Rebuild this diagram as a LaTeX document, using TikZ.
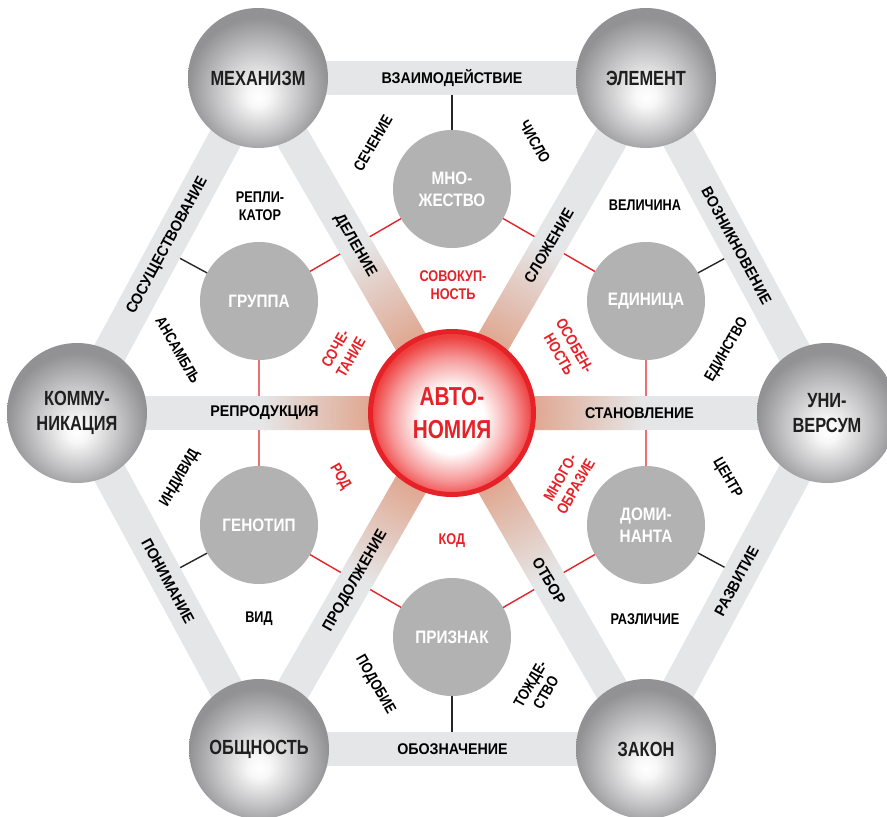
\documentclass[tikz,border=0pt]{standalone}
\usepackage{fontspec}
\setmainfont{Liberation Sans}
\newfontfamily\fbig{Liberation Sans}[FakeStretch=0.8]
\newfontfamily\fin{Liberation Sans}[FakeStretch=0.85]
\newfontfamily\fband{Liberation Sans}[FakeStretch=0.92]
\newfontfamily\ffree{Liberation Sans}[FakeStretch=0.82]
\usetikzlibrary{calc}
\definecolor{bandgray}{RGB}{229,230,231}
\definecolor{ingray}{RGB}{178,178,178}
\definecolor{redc}{RGB}{230,34,40}
\definecolor{salmon}{RGB}{224,168,146}
\definecolor{sphedge}{RGB}{146,146,149}
\definecolor{sphmid}{RGB}{196,196,198}
\definecolor{redmid}{RGB}{246,150,150}
\definecolor{rededge}{RGB}{238,62,62}
\pgfdeclareradialshading{sphsh}{\pgfpoint{0bp}{-7bp}}{color(0bp)=(white); color(4bp)=(white!97!black); color(15bp)=(sphmid); color(25bp)=(sphedge); color(50bp)=(sphedge)}
\pgfdeclareradialshading{redsh}{\pgfpoint{0bp}{-3bp}}{color(0bp)=(white); color(10bp)=(white); color(19bp)=(redmid); color(25bp)=(rededge); color(50bp)=(rededge)}
\pgfdeclareradialshading{spokesh}{\pgfpointorigin}{color(0bp)=(salmon); color(11bp)=(salmon); color(25bp)=(bandgray); color(50bp)=(bandgray)}
\pgfdeclarelayer{lines}
\pgfdeclarelayer{bands}
\pgfsetlayers{lines,bands,main}
\tikzset{
 sph/.style={circle, minimum size=140, inner sep=0, shade, shading=sphsh, align=center, text=black!88, font=\fbig\bfseries\fontsize{20.5}{25}\selectfont},
 inn/.style={circle, minimum size=118, inner sep=0, fill=ingray, align=center, text=white, font=\fin\bfseries\fontsize{18}{22}\selectfont},
 band/.style={line width=34, draw=bandgray},
 bandlbl/.style={font=\fband\bfseries\fontsize{15.5}{18}\selectfont, inner sep=0, sloped, midway, text=black},
 free/.style={font=\ffree\bfseries\fontsize{15.5}{18}\selectfont, inner sep=0, align=center, text=black},
 redlbl/.style={free, text=redc},
 redline/.style={draw=redc, line width=1.4},
 blkline/.style={draw=black!85, line width=1.4},
}
\begin{document}
\begin{tikzpicture}[x=1pt,y=-1pt]
\useasboundingbox (0,0) rectangle (887,817);
% outer spheres
\node[sph] (mech) at (258,78) {МЕХАНИЗМ};
\node[sph] (elem) at (646,78) {ЭЛЕМЕНТ};
\node[sph] (kom) at (77,413) {КОММУ-\\НИКАЦИЯ};
\node[sph] (uni) at (827,413) {УНИ-\\ВЕРСУМ};
\node[sph] (obs) at (259,749) {ОБЩНОСТЬ};
\node[sph] (zak) at (646,749) {ЗАКОН};
% inner circles
\node[inn] (mno) at (452,189) {МНО-\\ЖЕСТВО};
\node[inn] (grp) at (259,301) {ГРУППА};
\node[inn] (edi) at (646,301) {ЕДИНИЦА};
\node[inn] (gen) at (259,525) {ГЕНОТИП};
\node[inn] (dom) at (646,525) {ДОМИ-\\НАНТА};
\node[inn] (pri) at (452,637) {ПРИЗНАК};
% centre
\node[circle, minimum size=163, inner sep=0, shade, shading=redsh, draw=redc, line width=5, align=center, text=redc, font=\fbig\bfseries\fontsize{26}{33}\selectfont] (auto) at (452,413) {АВТО-\\НОМИЯ};

\begin{pgfonlayer}{lines}
\fill[white] (0,0) rectangle (887,817);
\draw[redline] (grp.center) -- (mno.center) -- (edi.center) -- (dom.center) -- (pri.center) -- (gen.center) -- cycle;
\draw[blkline] (mno.center) -- ($(mech.center)!(mno.center)!(elem.center)$);
\draw[blkline] (grp.center) -- ($(mech.center)!(grp.center)!(kom.center)$);
\draw[blkline] (edi.center) -- ($(elem.center)!(edi.center)!(uni.center)$);
\draw[blkline] (gen.center) -- ($(kom.center)!(gen.center)!(obs.center)$);
\draw[blkline] (dom.center) -- ($(uni.center)!(dom.center)!(zak.center)$);
\draw[blkline] (pri.center) -- ($(obs.center)!(pri.center)!(zak.center)$);
\end{pgfonlayer}

\begin{pgfonlayer}{bands}
\foreach \a/\b in {mech/elem, elem/uni, uni/zak, zak/obs, obs/kom, kom/mech, auto/mech, auto/elem, auto/uni, auto/zak, auto/obs, auto/kom}
  \draw[band] (\a.center) -- (\b.center);
\begin{scope}
\clip foreach \o in {mech,elem,uni,zak,obs,kom} { ($(auto.center)!17pt!90:(\o.center)$) -- ($(\o.center)!17pt!-90:(auto.center)$) -- ($(\o.center)!17pt!90:(auto.center)$) -- ($(auto.center)!17pt!-90:(\o.center)$) -- cycle };
\shade[shading=spokesh] (auto.center) circle (190);
\end{scope}
\end{pgfonlayer}

% band labels
\path (mech.center) -- (elem.center) node[bandlbl] (tvz) {ВЗАИМОДЕЙСТВИЕ};
\path (kom.center) -- (mech.center) node[bandlbl] (tsos) {СОСУЩЕСТВОВАНИЕ};
\path (kom.center) -- (obs.center) node[bandlbl] (tpon) {ПОНИМАНИЕ};
\path (obs.center) -- (zak.center) node[bandlbl] (tobo) {ОБОЗНАЧЕНИЕ};
\path (zak.center) -- (uni.center) node[bandlbl] (traz) {РАЗВИТИЕ};
\path (elem.center) -- (uni.center) node[bandlbl] (tvoz) {ВОЗНИКНОВЕНИЕ};
\path (auto.center) -- (mech.center) node[bandlbl] (tdel) {ДЕЛЕНИЕ};
\path (auto.center) -- (elem.center) node[bandlbl] (tslo) {СЛОЖЕНИЕ};
\path (kom.center) -- (auto.center) node[bandlbl] (trep) {РЕПРОДУКЦИЯ};
\path (auto.center) -- (uni.center) node[bandlbl] (tsta) {СТАНОВЛЕНИЕ};
\path (auto.center) -- (obs.center) node[bandlbl] (tpro) {ПРОДОЛЖЕНИЕ};
\path (auto.center) -- (zak.center) node[bandlbl] (totb) {ОТБОР};

% free labels
\node[free, rotate=60] (tsec) at (373,143) {СЕЧЕНИЕ};
\node[free, rotate=-60] (tchi) at (535,142) {ЧИСЛО};
\node[free] (trepl) at (260,206) {РЕПЛИ-\\КАТОР};
\node[free] (tvel) at (645,205) {ВЕЛИЧИНА};
\node[free, rotate=-60] (tans) at (178,350) {АНСАМБЛЬ};
\node[free, rotate=60] (tedin) at (727,350) {ЕДИНСТВО};
\node[free, rotate=60] (tind) at (180,478) {ИНДИВИД};
\node[free, rotate=-60] (tcen) at (727,478) {ЦЕНТР};
\node[free] (tvid) at (259,619) {ВИД};
\node[free] (tral) at (645,619) {РАЗЛИЧИЕ};
\node[free, rotate=-60] (tpod) at (375,685) {ПОДОБИЕ};
\node[free, rotate=60] (ttoz) at (538,688) {ТОЖДЕ-\\СТВО};

% red labels
\node[redlbl] (tsov) at (453,285) {СОВОКУП-\\НОСТЬ};
\node[redlbl, rotate=60] (tsoch) at (343,353) {СОЧЕ-\\ТАНИЕ};
\node[redlbl, rotate=-60] (tosob) at (567,350) {ОСОБЕН-\\НОСТЬ};
\node[redlbl, rotate=-60] (trod) at (340,477) {РОД};
\node[redlbl, rotate=60] (tmno) at (568,482) {МНОГО-\\ОБРАЗИЕ};
\node[redlbl] (tkod) at (452,541) {КОД};
\end{tikzpicture}
\end{document}
